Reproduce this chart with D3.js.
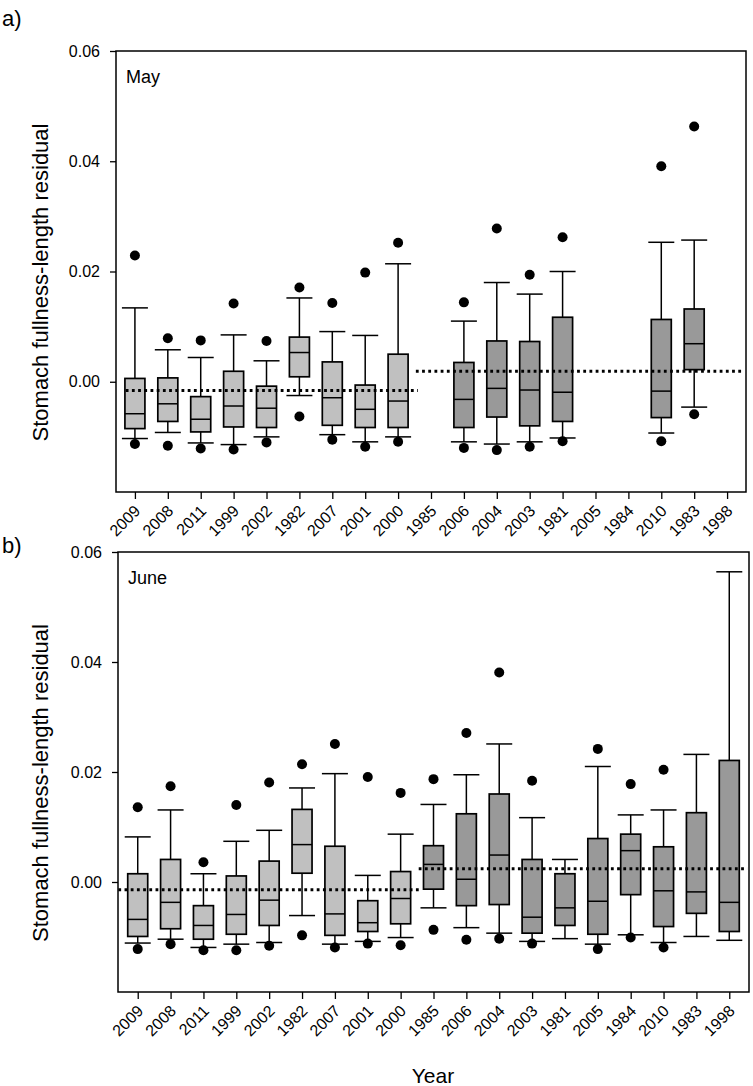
<!DOCTYPE html>
<html>
<head>
<meta charset="utf-8">
<script src="https://cdn.jsdelivr.net/npm/d3@7"></script>
<style>
  html, body { margin: 0; padding: 0; background: #fff; }
  svg { display: block; font-family: "Liberation Sans", Arial, sans-serif; }
</style>
</head>
<body>
<svg id="chart" width="753" height="1086"></svg>
<script>
// ---------- data ----------
const years = ["2009","2008","2011","1999","2002","1982","2007","2001","2000","1985",
               "2006","2004","2003","1981","2005","1984","2010","1983","1998"];
const lightGroupCount = 9; // first 9 years drawn light grey
const yTicks = [0.00, 0.02, 0.04, 0.06];

// May
const mayWhiskerHigh = [0.0134, 0.0058, 0.0044, 0.0085, 0.0038, 0.0152, 0.0091, 0.0084, 0.0214, null, 0.0110, 0.0180, 0.0159, 0.0200, null, null, 0.0253, 0.0257, null];
const mayQ3          = [0.0006, 0.0007, -0.0027, 0.0019, -0.0008, 0.0081, 0.0036, -0.0006, 0.0050, null, 0.0035, 0.0074, 0.0073, 0.0117, null, null, 0.0113, 0.0132, null];
const mayMedian      = [-0.0058, -0.0040, -0.0068, -0.0044, -0.0048, 0.0053, -0.0029, -0.0050, -0.0035, null, -0.0032, -0.0012, -0.0015, -0.0019, null, null, -0.0017, 0.0069, null];
const mayQ1          = [-0.0085, -0.0072, -0.0091, -0.0082, -0.0083, 0.0009, -0.0079, -0.0083, -0.0083, null, -0.0083, -0.0064, -0.0080, -0.0072, null, null, -0.0065, 0.0022, null];
const mayWhiskerLow  = [-0.0103, -0.0092, -0.0111, -0.0114, -0.0100, -0.0025, -0.0096, -0.0109, -0.0100, null, -0.0109, -0.0113, -0.0109, -0.0102, null, null, -0.0093, -0.0046, null];
const mayOutHigh     = [0.0229, 0.0079, 0.0075, 0.0142, 0.0074, 0.0171, 0.0143, 0.0198, 0.0252, null, 0.0144, 0.0278, 0.0194, 0.0262, null, null, 0.0391, 0.0463, null];
const mayOutLow      = [-0.0113, -0.0116, -0.0121, -0.0123, -0.0110, -0.0063, -0.0105, -0.0118, -0.0109, null, -0.0120, -0.0124, -0.0118, -0.0108, null, null, -0.0108, -0.0059, null];
const mayGroupMeans  = [-0.0016, 0.0019];

// June
const junWhiskerHigh = [0.0082, 0.0131, 0.0015, 0.0074, 0.0094, 0.0171, 0.0197, 0.0012, 0.0087, 0.0141, 0.0195, 0.0251, 0.0117, 0.0041, 0.0210, 0.0122, 0.0131, 0.0232, 0.0564];
const junQ3          = [0.0015, 0.0041, -0.0043, 0.0011, 0.0038, 0.0132, 0.0065, -0.0034, 0.0019, 0.0066, 0.0124, 0.0160, 0.0041, 0.0015, 0.0079, 0.0087, 0.0064, 0.0126, 0.0221];
const junMedian      = [-0.0068, -0.0037, -0.0079, -0.0059, -0.0033, 0.0068, -0.0058, -0.0074, -0.0030, 0.0032, 0.0005, 0.0049, -0.0064, -0.0047, -0.0035, 0.0057, -0.0016, -0.0018, -0.0037];
const junQ1          = [-0.0099, -0.0085, -0.0104, -0.0095, -0.0079, 0.0016, -0.0097, -0.0090, -0.0076, -0.0013, -0.0043, -0.0041, -0.0093, -0.0079, -0.0095, -0.0023, -0.0081, -0.0057, -0.0090];
const junWhiskerLow  = [-0.0111, -0.0104, -0.0119, -0.0113, -0.0110, -0.0061, -0.0113, -0.0108, -0.0101, -0.0047, -0.0083, -0.0093, -0.0108, -0.0103, -0.0113, -0.0096, -0.0110, -0.0099, -0.0106];
const junOutHigh     = [0.0136, 0.0174, 0.0036, 0.0140, 0.0181, 0.0214, 0.0251, 0.0191, 0.0162, 0.0187, 0.0271, 0.0381, 0.0184, null, 0.0242, 0.0178, 0.0204, null, null];
const junOutLow      = [-0.0122, -0.0113, -0.0124, -0.0124, -0.0116, -0.0097, -0.0119, -0.0112, -0.0115, -0.0087, -0.0105, -0.0103, -0.0112, null, -0.0122, -0.0101, -0.0119, null, null];
const junGroupMeans  = [-0.0014, 0.0024];

// ---------- layout ----------
const svg = d3.select("#chart");
const lightFill = "#c0c0c0", darkFill = "#999999";

const panels = [
  { label: "a)", labelY: 26, month: "May",
    left: 116, right: 746, top: 51, bottom: 492, pad: 0.575,
    meanSpans: [[-0.28, 8.6], [8.54, 18.48]],
    wHigh: mayWhiskerHigh, q3: mayQ3, med: mayMedian, q1: mayQ1, wLow: mayWhiskerLow,
    oHigh: mayOutHigh, oLow: mayOutLow, means: mayGroupMeans },
  { label: "b)", labelY: 553, month: "June",
    left: 118, right: 749, top: 552, bottom: 992, pad: 0.6,
    meanSpans: [[-0.59, 8.6], [8.55, 18.55]],
    wHigh: junWhiskerHigh, q3: junQ3, med: junMedian, q1: junQ1, wLow: junWhiskerLow,
    oHigh: junOutHigh, oLow: junOutLow, means: junGroupMeans }
];

const boxW = 20, capW = 26, dotR = 5;

panels.forEach(p => {
  const x = d3.scalePoint().domain(years).range([p.left, p.right]).padding(p.pad);
  const y = d3.scaleLinear().domain([-0.02, 0.06]).range([p.bottom, p.top]);
  const step = x.step();
  const g = svg.append("g");

  // panel label
  svg.append("text").attr("x", 2).attr("y", p.labelY)
    .attr("font-size", 22).text(p.label);

  // frame
  g.append("rect").attr("x", p.left).attr("y", p.top)
    .attr("width", p.right - p.left).attr("height", p.bottom - p.top)
    .attr("fill", "none").attr("stroke", "#000").attr("stroke-width", 1.5);

  // y axis
  const yAxis = g.append("g").attr("transform", `translate(${p.left},0)`)
    .call(d3.axisLeft(y).tickValues(yTicks).tickFormat(d3.format(".2f")).tickSize(6).tickPadding(10));
  yAxis.select(".domain").remove();
  yAxis.selectAll("line").attr("stroke-width", 1.3);
  yAxis.selectAll("text").attr("font-size", 16).attr("font-family", "Liberation Sans, Arial, sans-serif").attr("fill", "#000");

  // x axis
  const xAxis = g.append("g").attr("transform", `translate(0,${p.bottom})`)
    .call(d3.axisBottom(x).tickSize(7).tickSizeOuter(0));
  xAxis.select(".domain").remove();
  xAxis.selectAll("line").attr("stroke-width", 1.3);
  xAxis.selectAll("text")
    .attr("font-size", 16).attr("font-family", "Liberation Sans, Arial, sans-serif").attr("fill", "#000")
    .attr("text-anchor", "end").attr("dy", null).attr("y", null)
    .attr("transform", "translate(6,20) rotate(-45)");

  // y title
  const cy = (p.top + p.bottom) / 2 + 11;
  svg.append("text").attr("transform", `translate(48,${cy}) rotate(-90)`)
    .attr("text-anchor", "middle").attr("font-size", 22)
    .text("Stomach fullness-length residual");

  // month
  g.append("text").attr("x", p.left + 10).attr("y", p.top + 32)
    .attr("font-size", 18).text(p.month);

  const idx = d3.range(years.length).filter(i => p.med[i] !== null);

  // whiskers
  const wg = g.append("g").attr("stroke", "#000").attr("stroke-width", 1.5);
  idx.forEach(i => {
    const cx = x(years[i]);
    wg.append("line").attr("x1", cx).attr("x2", cx).attr("y1", y(p.wHigh[i])).attr("y2", y(p.q3[i]));
    wg.append("line").attr("x1", cx).attr("x2", cx).attr("y1", y(p.q1[i])).attr("y2", y(p.wLow[i]));
    wg.append("line").attr("x1", cx - capW/2).attr("x2", cx + capW/2).attr("y1", y(p.wHigh[i])).attr("y2", y(p.wHigh[i]));
    wg.append("line").attr("x1", cx - capW/2).attr("x2", cx + capW/2).attr("y1", y(p.wLow[i])).attr("y2", y(p.wLow[i]));
  });

  // boxes
  g.append("g").selectAll("rect").data(idx).join("rect")
    .attr("x", i => x(years[i]) - boxW/2).attr("width", boxW)
    .attr("y", i => y(p.q3[i])).attr("height", i => y(p.q1[i]) - y(p.q3[i]))
    .attr("fill", i => i < lightGroupCount ? lightFill : darkFill)
    .attr("stroke", "#000").attr("stroke-width", 1.7);

  // medians
  g.append("g").selectAll("line").data(idx).join("line")
    .attr("x1", i => x(years[i]) - boxW/2).attr("x2", i => x(years[i]) + boxW/2)
    .attr("y1", i => y(p.med[i])).attr("y2", i => y(p.med[i]))
    .attr("stroke", "#000").attr("stroke-width", 1.5);

  // group mean dotted lines
  p.means.forEach((m, k) => {
    const s = p.meanSpans[k];
    const x0 = x(years[0]) + s[0] * step, x1 = x(years[0]) + s[1] * step;
    g.append("line").attr("x1", x0).attr("x2", x1).attr("y1", y(m)).attr("y2", y(m))
      .attr("stroke", "#000").attr("stroke-width", 3).attr("stroke-dasharray", "2.8,3.4");
  });

  // outliers
  const og = g.append("g").attr("fill", "#000");
  d3.range(years.length).forEach(i => {
    [p.oHigh[i], p.oLow[i]].forEach(v => {
      if (v !== null) og.append("circle").attr("cx", x(years[i])).attr("cy", y(v)).attr("r", dotR);
    });
  });
});

// x title
svg.append("text").attr("x", 433).attr("y", 1083).attr("text-anchor", "middle")
  .attr("font-size", 21).text("Year");
</script>
</body>
</html>
